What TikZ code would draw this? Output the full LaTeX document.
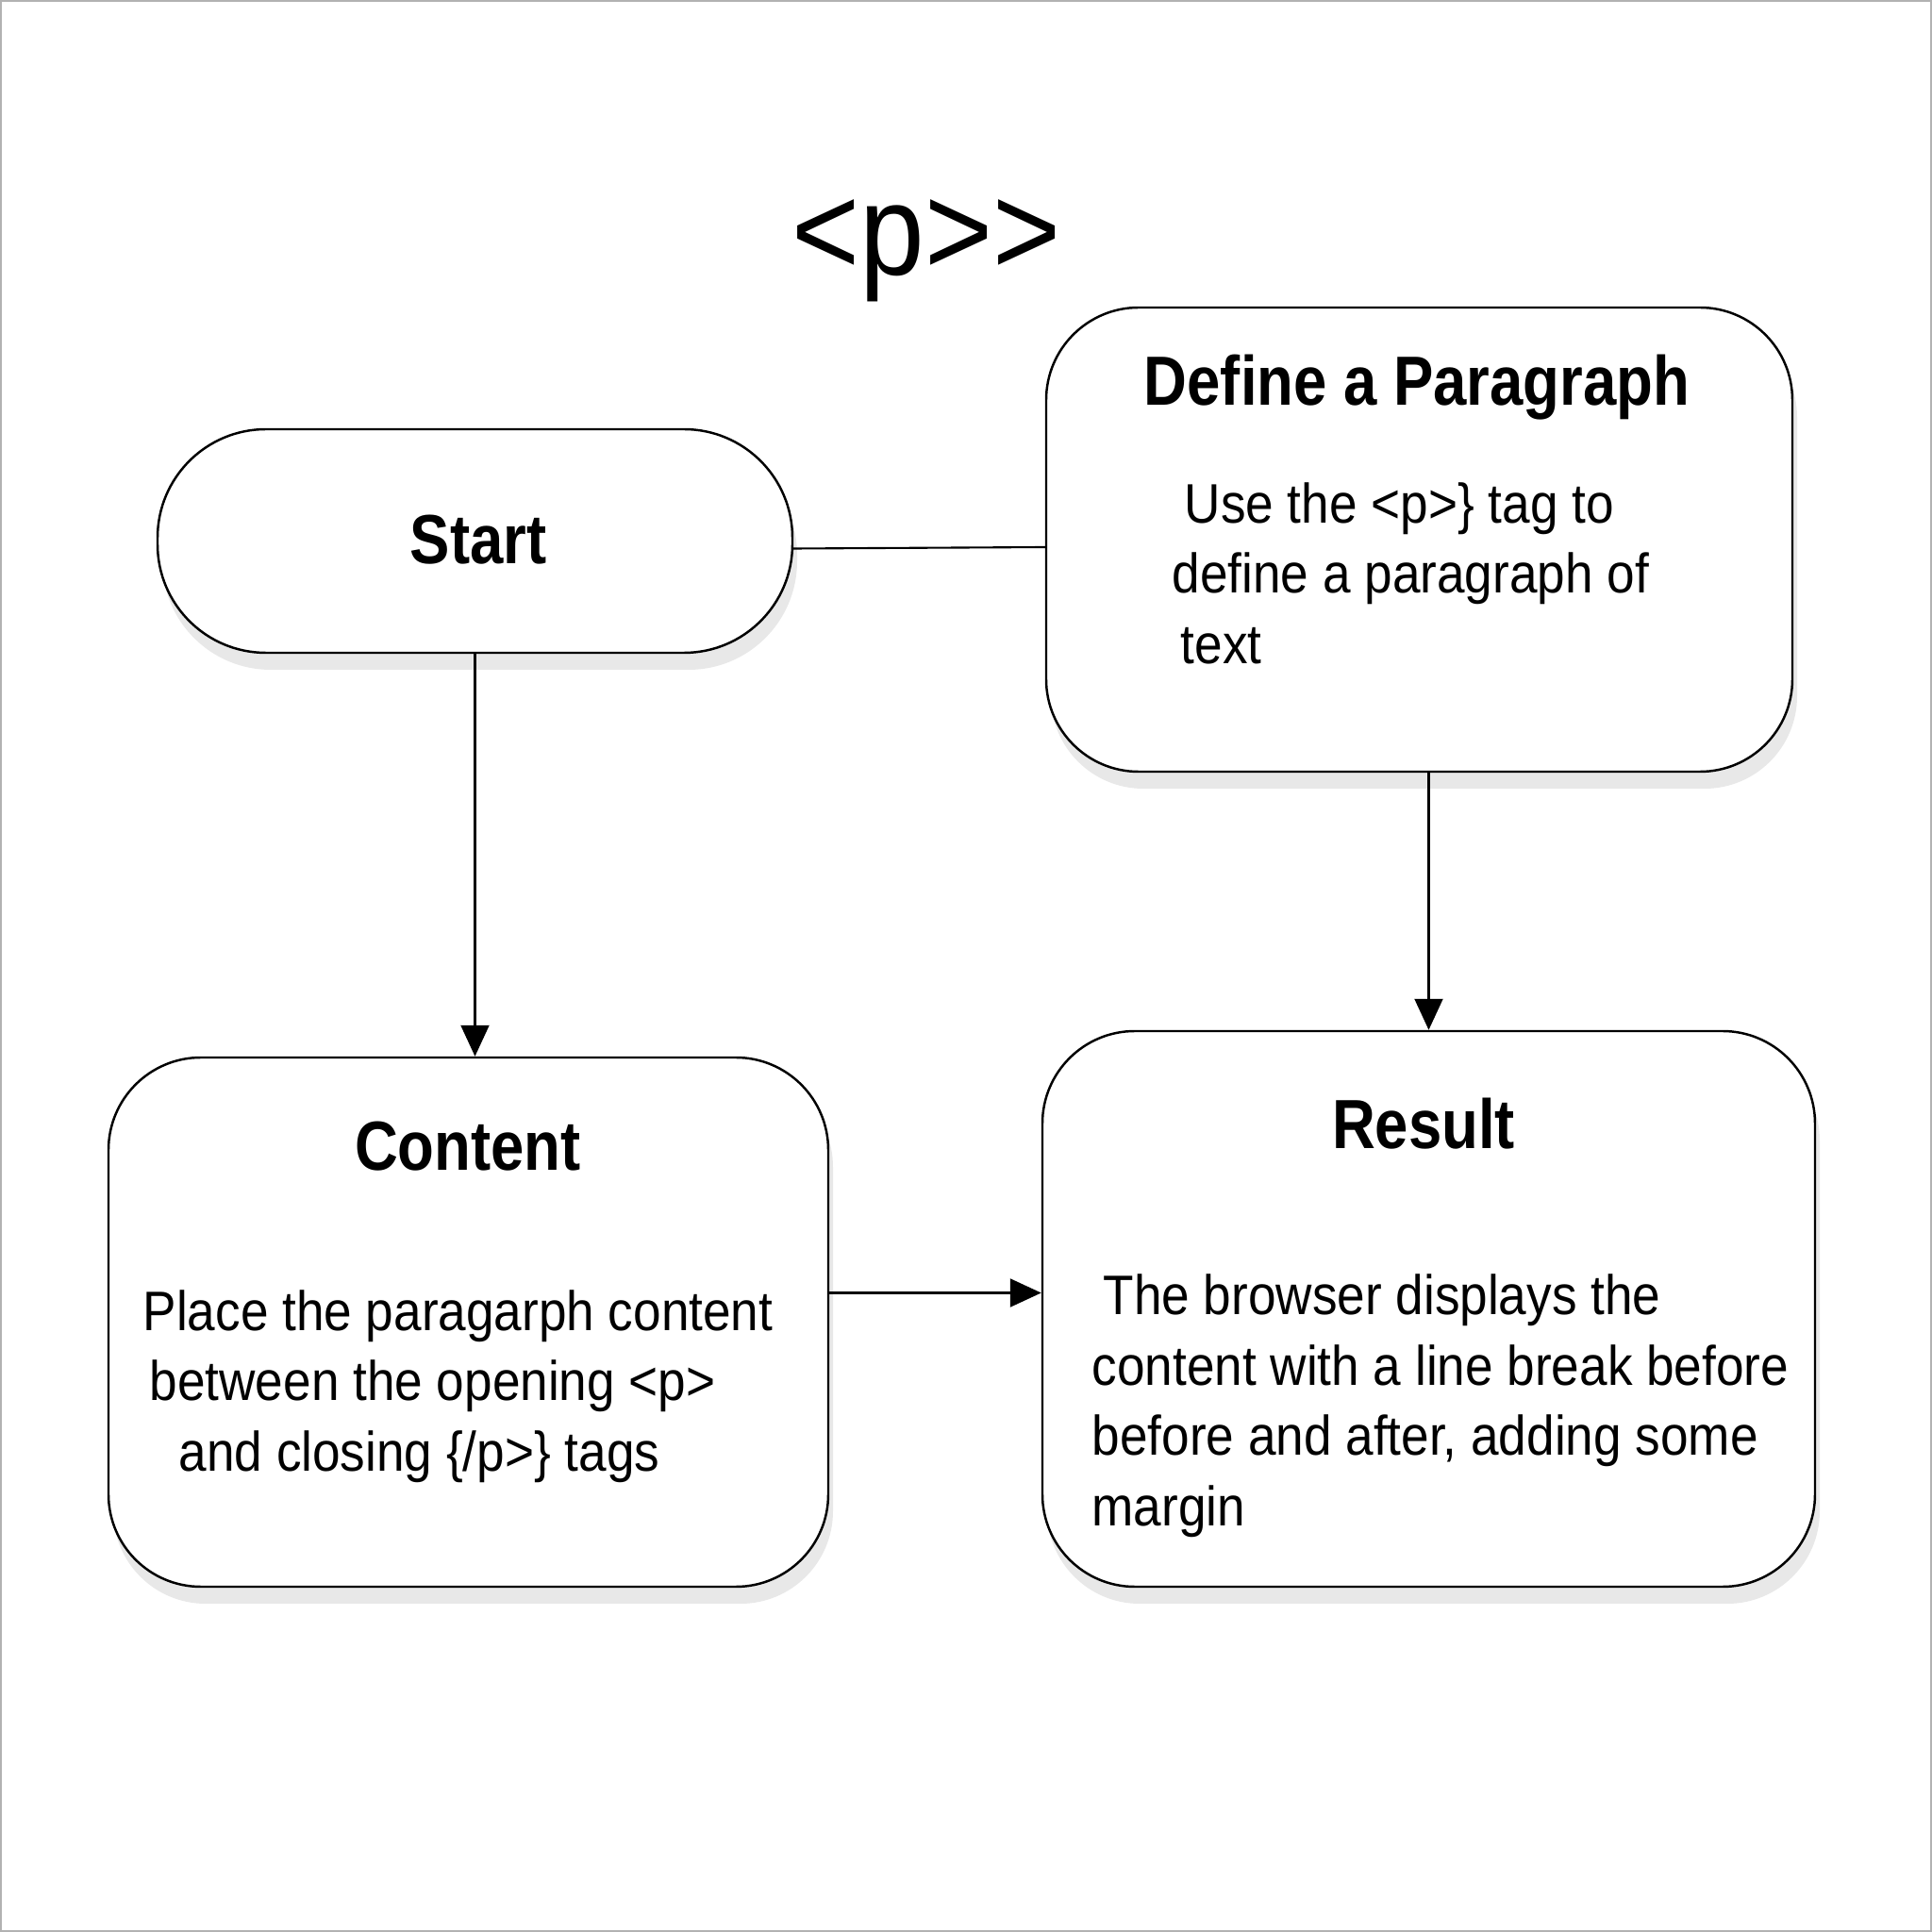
\documentclass[tikz,border=0pt]{standalone}
\usepackage{fontspec}
\newfontfamily\headfont[FakeStretch=0.86]{Liberation Sans}
\newfontfamily\bodyfont[FakeStretch=0.90]{Liberation Sans}
\usetikzlibrary{arrows.meta,shadows}

\begin{document}
\begin{tikzpicture}[
    card/.style={
        draw,
        line width=0.7pt,
        fill=white,
        rounded corners=0.98cm,
        drop shadow={shadow xshift=0.05cm, shadow yshift=-0.18cm, fill=gray!18, opacity=1}
    },
    pill/.style={card, rounded corners=1.15cm},
    heading/.style={font=\headfont\fontsize{21}{25}\selectfont\bfseries, inner sep=0pt},
    body/.style={font=\bodyfont\fontsize{16.8}{21.2}\selectfont, align=left, anchor=west, inner sep=0pt},
    arr/.style={-{Triangle[length=3.3mm, width=3mm]}, line width=0.6pt},
    link/.style={line width=0.6pt}
]

\useasboundingbox (0,0) rectangle (20.48,20.48);
\draw[gray!60, line width=1.2pt] (0,0) rectangle (20.48,20.48);

% title
\node[font=\bodyfont\fontsize{39}{46}\selectfont, anchor=base, inner sep=0pt] (title) at (9.82,17.56) {<p>>};

% boxes
\node[pill, minimum width=6.73cm, minimum height=2.37cm] (start) at (5.035,14.745) {};
\node[card, minimum width=7.91cm, minimum height=4.92cm] (define) at (15.045,14.76) {};
\node[card, minimum width=7.63cm, minimum height=5.61cm] (content) at (4.965,6.465) {};
\node[card, minimum width=8.19cm, minimum height=5.89cm] (result) at (15.145,6.605) {};

% headings
\node[heading] (startH) at (5.07,14.76) {Start};
\node[heading] (defineH) at (15.02,16.37) {Define a Paragraph};
\node[heading] (contentH) at (4.96,8.33) {Content};
\node[heading] (resultH) at (15.09,8.57) {Result};

% texts
\node[body] (defineT) at (12.42,14.405) {\hspace*{0.13cm}Use the <p>\} tag to\\define a paragraph of\\\hspace*{0.09cm}text};
\node[body] (contentT) at (1.51,5.785) {Place the paragarph content\\\hspace*{0.07cm}between the opening <p>\\\hspace*{0.38cm}and closing \{/p>\} tags};
\node[body] (resultT) at (11.57,5.58) {\hspace*{0.12cm}The browser displays the\\content with a line break before\\before and after, adding some\\margin};

% connectors
\draw[link] ([yshift=-0.08cm]start.east) -- ([yshift=-0.08cm]define.west);
\draw[arr] (start.south) -- (start.south |- content.north);
\draw[arr] (define.south -| result.north) -- (result.north);
\draw[arr] ([yshift=1.7mm]content.east |- result.west) -- ([yshift=1.7mm]result.west);

\end{tikzpicture}
\end{document}
